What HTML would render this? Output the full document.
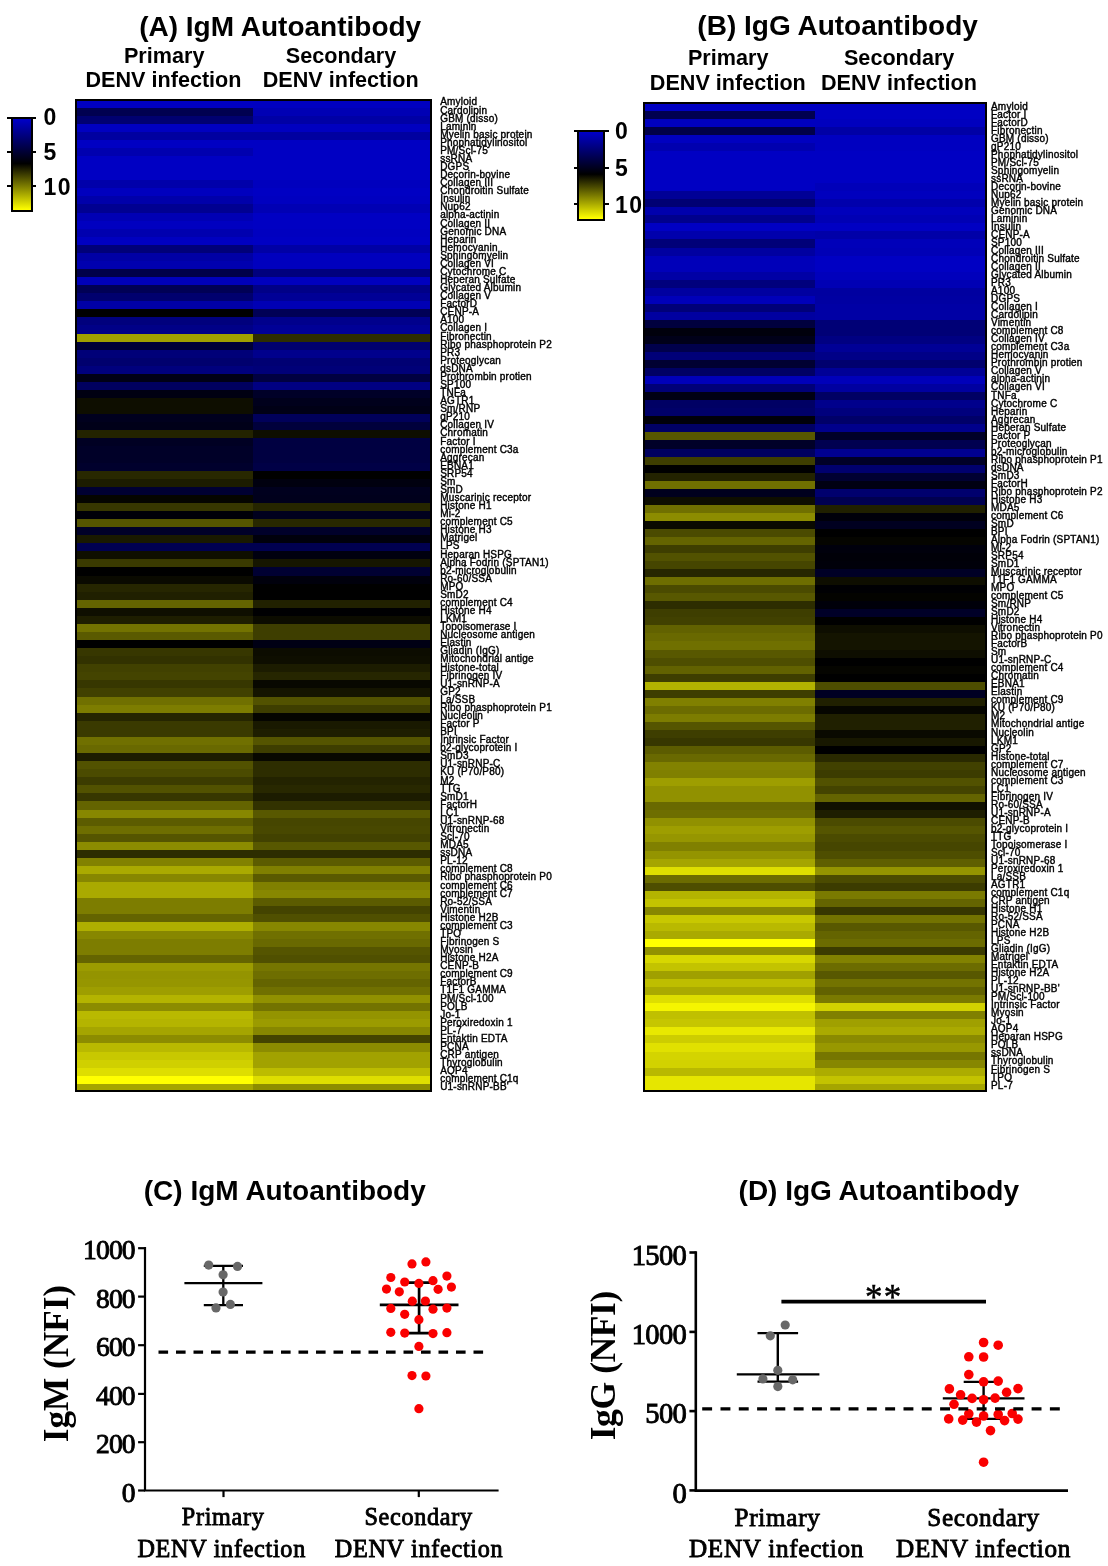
<!DOCTYPE html>
<html lang="en"><head><meta charset="utf-8"><title>Autoantibody heatmaps</title>
<style>
html,body{margin:0;padding:0;background:#fff}
body{width:1108px;height:1566px;position:relative;overflow:hidden;font-family:"Liberation Sans",sans-serif;color:#000}
.t{position:absolute;white-space:nowrap;font-weight:bold}
.cbl{font-size:23px;line-height:24px;letter-spacing:1.5px}
.hm{position:absolute;border:2px solid #000;overflow:hidden;box-sizing:content-box}
.cb{position:absolute;border:2px solid #000;box-sizing:content-box;z-index:2}
.tk{position:absolute;height:2.4px;background:#000;z-index:1}
.lb{position:absolute;font-size:10.00px;line-height:11px;letter-spacing:0.2px;white-space:nowrap;-webkit-text-stroke:0.4px #000}
.lb div{position:absolute;left:0}
svg{position:absolute;left:0;top:0}
.st{font-family:"Liberation Serif",serif;font-size:27.5px;letter-spacing:-0.8px;stroke:#000;stroke-width:0.9px}
.sg{font-family:"Liberation Serif",serif;font-size:35px;letter-spacing:1.2px;stroke:#000;stroke-width:0.5px}
.sx{font-family:"Liberation Serif",serif;font-size:24.2px;letter-spacing:0.7px;stroke:#000;stroke-width:0.85px}
.sy{font-family:"Liberation Serif",serif;font-size:35.2px;font-weight:bold}
.sxd{font-size:25.2px}
.std{font-size:28.6px;letter-spacing:-0.7px}
.syd{font-size:35.5px;letter-spacing:-0.4px}
</style></head><body>

<div class="t" style="left:280.20px;top:11.80px;width:400px;margin-left:-200px;text-align:center;font-size:28.00px;line-height:30px;">(A) IgM Autoantibody</div>
<div class="t" style="left:164.20px;top:40.72px;width:400px;margin-left:-200px;text-align:center;font-size:21.60px;line-height:30px;">Primary</div>
<div class="t" style="left:163.50px;top:65.22px;width:400px;margin-left:-200px;text-align:center;font-size:21.60px;line-height:30px;">DENV infection</div>
<div class="t" style="left:341.00px;top:40.72px;width:400px;margin-left:-200px;text-align:center;font-size:21.60px;line-height:30px;">Secondary</div>
<div class="t" style="left:340.70px;top:65.22px;width:400px;margin-left:-200px;text-align:center;font-size:21.60px;line-height:30px;">DENV infection</div>
<div class="t" style="left:837.60px;top:11.40px;width:400px;margin-left:-200px;text-align:center;font-size:28.00px;line-height:30px;">(B) IgG Autoantibody</div>
<div class="t" style="left:728.20px;top:42.72px;width:400px;margin-left:-200px;text-align:center;font-size:21.60px;line-height:30px;">Primary</div>
<div class="t" style="left:727.80px;top:67.82px;width:400px;margin-left:-200px;text-align:center;font-size:21.60px;line-height:30px;">DENV infection</div>
<div class="t" style="left:899.20px;top:42.72px;width:400px;margin-left:-200px;text-align:center;font-size:21.60px;line-height:30px;">Secondary</div>
<div class="t" style="left:899.00px;top:67.82px;width:400px;margin-left:-200px;text-align:center;font-size:21.60px;line-height:30px;">DENV infection</div>
<div class="hm" style="left:75.00px;top:98.70px;width:352.80px;height:989.30px"><div style="position:absolute;left:0;top:0;width:175.80px;height:989.30px;background:linear-gradient(to bottom,rgb(0,0,192) -1.40px,rgb(0,0,192) 6.67px,rgb(0,0,80) 6.67px,rgb(0,0,80) 14.73px,rgb(0,0,112) 14.73px,rgb(0,0,112) 22.80px,rgb(0,0,192) 22.80px,rgb(0,0,192) 30.87px,rgb(0,0,160) 30.87px,rgb(0,0,160) 38.93px,rgb(0,0,195) 38.93px,rgb(0,0,195) 47.00px,rgb(0,0,175) 47.00px,rgb(0,0,175) 55.07px,rgb(0,0,195) 55.07px,rgb(0,0,195) 63.14px,rgb(0,0,195) 63.14px,rgb(0,0,195) 71.20px,rgb(0,0,195) 71.20px,rgb(0,0,195) 79.27px,rgb(0,0,170) 79.27px,rgb(0,0,170) 87.34px,rgb(0,0,190) 87.34px,rgb(0,0,190) 95.40px,rgb(0,0,170) 95.40px,rgb(0,0,170) 103.47px,rgb(0,0,145) 103.47px,rgb(0,0,145) 111.54px,rgb(0,0,180) 111.54px,rgb(0,0,180) 119.60px,rgb(0,0,192) 119.60px,rgb(0,0,192) 127.67px,rgb(0,0,175) 127.67px,rgb(0,0,175) 135.74px,rgb(0,0,192) 135.74px,rgb(0,0,192) 143.81px,rgb(0,0,120) 143.81px,rgb(0,0,120) 151.87px,rgb(0,0,165) 151.87px,rgb(0,0,165) 159.94px,rgb(0,0,175) 159.94px,rgb(0,0,175) 168.01px,rgb(0,0,72) 168.01px,rgb(0,0,72) 176.07px,rgb(0,0,185) 176.07px,rgb(0,0,185) 184.14px,rgb(0,0,85) 184.14px,rgb(0,0,85) 192.21px,rgb(0,0,110) 192.21px,rgb(0,0,110) 200.28px,rgb(0,0,165) 200.28px,rgb(0,0,165) 208.34px,rgb(0,0,0) 208.34px,rgb(0,0,0) 216.41px,rgb(0,0,125) 216.41px,rgb(0,0,125) 224.48px,rgb(0,0,135) 224.48px,rgb(0,0,135) 232.54px,rgb(160,160,0) 232.54px,rgb(160,160,0) 240.61px,rgb(0,0,55) 240.61px,rgb(0,0,55) 248.68px,rgb(0,0,120) 248.68px,rgb(0,0,120) 256.74px,rgb(0,0,110) 256.74px,rgb(0,0,110) 264.81px,rgb(0,0,125) 264.81px,rgb(0,0,125) 272.88px,rgb(0,0,22) 272.88px,rgb(0,0,22) 280.95px,rgb(0,0,95) 280.95px,rgb(0,0,95) 289.01px,rgb(0,0,18) 289.01px,rgb(0,0,18) 297.08px,rgb(14,14,0) 297.08px,rgb(14,14,0) 305.15px,rgb(14,14,0) 305.15px,rgb(14,14,0) 313.21px,rgb(0,0,30) 313.21px,rgb(0,0,30) 321.28px,rgb(0,0,25) 321.28px,rgb(0,0,25) 329.35px,rgb(35,35,0) 329.35px,rgb(35,35,0) 337.41px,rgb(0,0,35) 337.41px,rgb(0,0,35) 345.48px,rgb(0,0,40) 345.48px,rgb(0,0,40) 353.55px,rgb(0,0,40) 353.55px,rgb(0,0,40) 361.62px,rgb(0,0,45) 361.62px,rgb(0,0,45) 369.68px,rgb(40,40,0) 369.68px,rgb(40,40,0) 377.75px,rgb(28,28,0) 377.75px,rgb(28,28,0) 385.82px,rgb(0,0,50) 385.82px,rgb(0,0,50) 393.88px,rgb(5,5,0) 393.88px,rgb(5,5,0) 401.95px,rgb(55,55,0) 401.95px,rgb(55,55,0) 410.02px,rgb(0,0,8) 410.02px,rgb(0,0,8) 418.08px,rgb(85,85,0) 418.08px,rgb(85,85,0) 426.15px,rgb(0,0,40) 426.15px,rgb(0,0,40) 434.22px,rgb(25,25,0) 434.22px,rgb(25,25,0) 442.28px,rgb(0,0,80) 442.28px,rgb(0,0,80) 450.35px,rgb(15,15,0) 450.35px,rgb(15,15,0) 458.42px,rgb(58,58,0) 458.42px,rgb(58,58,0) 466.49px,rgb(0,0,0) 466.49px,rgb(0,0,0) 474.55px,rgb(10,10,0) 474.55px,rgb(10,10,0) 482.62px,rgb(38,38,0) 482.62px,rgb(38,38,0) 490.69px,rgb(32,32,0) 490.69px,rgb(32,32,0) 498.75px,rgb(100,100,0) 498.75px,rgb(100,100,0) 506.82px,rgb(15,15,0) 506.82px,rgb(15,15,0) 514.89px,rgb(30,30,0) 514.89px,rgb(30,30,0) 522.96px,rgb(115,115,0) 522.96px,rgb(115,115,0) 531.02px,rgb(90,90,0) 531.02px,rgb(90,90,0) 539.09px,rgb(0,0,0) 539.09px,rgb(0,0,0) 547.16px,rgb(55,55,0) 547.16px,rgb(55,55,0) 555.22px,rgb(50,50,0) 555.22px,rgb(50,50,0) 563.29px,rgb(65,65,0) 563.29px,rgb(65,65,0) 571.36px,rgb(68,68,0) 571.36px,rgb(68,68,0) 579.42px,rgb(55,55,0) 579.42px,rgb(55,55,0) 587.49px,rgb(65,65,0) 587.49px,rgb(65,65,0) 595.56px,rgb(112,112,0) 595.56px,rgb(112,112,0) 603.62px,rgb(125,125,0) 603.62px,rgb(125,125,0) 611.69px,rgb(38,38,0) 611.69px,rgb(38,38,0) 619.76px,rgb(58,58,0) 619.76px,rgb(58,58,0) 627.83px,rgb(58,58,0) 627.83px,rgb(58,58,0) 635.89px,rgb(112,112,0) 635.89px,rgb(112,112,0) 643.96px,rgb(105,105,0) 643.96px,rgb(105,105,0) 652.03px,rgb(28,28,0) 652.03px,rgb(28,28,0) 660.09px,rgb(82,82,0) 660.09px,rgb(82,82,0) 668.16px,rgb(75,75,0) 668.16px,rgb(75,75,0) 676.23px,rgb(60,60,0) 676.23px,rgb(60,60,0) 684.30px,rgb(82,82,0) 684.30px,rgb(82,82,0) 692.36px,rgb(55,55,0) 692.36px,rgb(55,55,0) 700.43px,rgb(100,100,0) 700.43px,rgb(100,100,0) 708.50px,rgb(135,135,0) 708.50px,rgb(135,135,0) 716.56px,rgb(92,92,0) 716.56px,rgb(92,92,0) 724.63px,rgb(110,110,0) 724.63px,rgb(110,110,0) 732.70px,rgb(85,85,0) 732.70px,rgb(85,85,0) 740.76px,rgb(140,140,0) 740.76px,rgb(140,140,0) 748.83px,rgb(45,45,0) 748.83px,rgb(45,45,0) 756.90px,rgb(130,130,0) 756.90px,rgb(130,130,0) 764.97px,rgb(170,170,0) 764.97px,rgb(170,170,0) 773.03px,rgb(135,135,0) 773.03px,rgb(135,135,0) 781.10px,rgb(170,170,0) 781.10px,rgb(170,170,0) 789.17px,rgb(170,170,0) 789.17px,rgb(170,170,0) 797.23px,rgb(125,125,0) 797.23px,rgb(125,125,0) 805.30px,rgb(125,125,0) 805.30px,rgb(125,125,0) 813.37px,rgb(100,100,0) 813.37px,rgb(100,100,0) 821.43px,rgb(175,175,0) 821.43px,rgb(175,175,0) 829.50px,rgb(135,135,0) 829.50px,rgb(135,135,0) 837.57px,rgb(125,125,0) 837.57px,rgb(125,125,0) 845.63px,rgb(125,125,0) 845.63px,rgb(125,125,0) 853.70px,rgb(100,100,0) 853.70px,rgb(100,100,0) 861.77px,rgb(155,155,0) 861.77px,rgb(155,155,0) 869.84px,rgb(148,148,0) 869.84px,rgb(148,148,0) 877.90px,rgb(150,150,0) 877.90px,rgb(150,150,0) 885.97px,rgb(158,158,0) 885.97px,rgb(158,158,0) 894.04px,rgb(180,180,0) 894.04px,rgb(180,180,0) 902.10px,rgb(140,140,0) 902.10px,rgb(140,140,0) 910.17px,rgb(185,185,0) 910.17px,rgb(185,185,0) 918.24px,rgb(180,180,0) 918.24px,rgb(180,180,0) 926.31px,rgb(165,165,0) 926.31px,rgb(165,165,0) 934.37px,rgb(140,140,0) 934.37px,rgb(140,140,0) 942.44px,rgb(185,185,0) 942.44px,rgb(185,185,0) 950.51px,rgb(200,200,0) 950.51px,rgb(200,200,0) 958.57px,rgb(208,208,0) 958.57px,rgb(208,208,0) 966.64px,rgb(222,222,0) 966.64px,rgb(222,222,0) 974.71px,rgb(255,255,0) 974.71px,rgb(255,255,0) 982.77px,rgb(165,165,0) 982.77px,rgb(165,165,0) 990.84px)"></div><div style="position:absolute;left:175.80px;top:0;width:177.00px;height:989.30px;background:linear-gradient(to bottom,rgb(0,0,192) -1.40px,rgb(0,0,192) 6.67px,rgb(0,0,180) 6.67px,rgb(0,0,180) 14.73px,rgb(0,0,165) 14.73px,rgb(0,0,165) 22.80px,rgb(0,0,192) 22.80px,rgb(0,0,192) 30.87px,rgb(0,0,160) 30.87px,rgb(0,0,160) 38.93px,rgb(0,0,195) 38.93px,rgb(0,0,195) 47.00px,rgb(0,0,195) 47.00px,rgb(0,0,195) 55.07px,rgb(0,0,195) 55.07px,rgb(0,0,195) 63.14px,rgb(0,0,195) 63.14px,rgb(0,0,195) 71.20px,rgb(0,0,195) 71.20px,rgb(0,0,195) 79.27px,rgb(0,0,190) 79.27px,rgb(0,0,190) 87.34px,rgb(0,0,195) 87.34px,rgb(0,0,195) 95.40px,rgb(0,0,192) 95.40px,rgb(0,0,192) 103.47px,rgb(0,0,180) 103.47px,rgb(0,0,180) 111.54px,rgb(0,0,195) 111.54px,rgb(0,0,195) 119.60px,rgb(0,0,195) 119.60px,rgb(0,0,195) 127.67px,rgb(0,0,192) 127.67px,rgb(0,0,192) 135.74px,rgb(0,0,195) 135.74px,rgb(0,0,195) 143.81px,rgb(0,0,165) 143.81px,rgb(0,0,165) 151.87px,rgb(0,0,190) 151.87px,rgb(0,0,190) 159.94px,rgb(0,0,190) 159.94px,rgb(0,0,190) 168.01px,rgb(0,0,125) 168.01px,rgb(0,0,125) 176.07px,rgb(0,0,190) 176.07px,rgb(0,0,190) 184.14px,rgb(0,0,135) 184.14px,rgb(0,0,135) 192.21px,rgb(0,0,150) 192.21px,rgb(0,0,150) 200.28px,rgb(0,0,180) 200.28px,rgb(0,0,180) 208.34px,rgb(0,0,85) 208.34px,rgb(0,0,85) 216.41px,rgb(0,0,140) 216.41px,rgb(0,0,140) 224.48px,rgb(0,0,150) 224.48px,rgb(0,0,150) 232.54px,rgb(45,45,0) 232.54px,rgb(45,45,0) 240.61px,rgb(0,0,110) 240.61px,rgb(0,0,110) 248.68px,rgb(0,0,140) 248.68px,rgb(0,0,140) 256.74px,rgb(0,0,115) 256.74px,rgb(0,0,115) 264.81px,rgb(0,0,120) 264.81px,rgb(0,0,120) 272.88px,rgb(0,0,65) 272.88px,rgb(0,0,65) 280.95px,rgb(0,0,130) 280.95px,rgb(0,0,130) 289.01px,rgb(0,0,40) 289.01px,rgb(0,0,40) 297.08px,rgb(0,0,28) 297.08px,rgb(0,0,28) 305.15px,rgb(0,0,22) 305.15px,rgb(0,0,22) 313.21px,rgb(0,0,90) 313.21px,rgb(0,0,90) 321.28px,rgb(0,0,60) 321.28px,rgb(0,0,60) 329.35px,rgb(14,14,0) 329.35px,rgb(14,14,0) 337.41px,rgb(0,0,65) 337.41px,rgb(0,0,65) 345.48px,rgb(0,0,65) 345.48px,rgb(0,0,65) 353.55px,rgb(0,0,65) 353.55px,rgb(0,0,65) 361.62px,rgb(0,0,70) 361.62px,rgb(0,0,70) 369.68px,rgb(0,0,0) 369.68px,rgb(0,0,0) 377.75px,rgb(0,0,15) 377.75px,rgb(0,0,15) 385.82px,rgb(0,0,30) 385.82px,rgb(0,0,30) 393.88px,rgb(0,0,28) 393.88px,rgb(0,0,28) 401.95px,rgb(38,38,0) 401.95px,rgb(38,38,0) 410.02px,rgb(0,0,30) 410.02px,rgb(0,0,30) 418.08px,rgb(40,40,0) 418.08px,rgb(40,40,0) 426.15px,rgb(0,0,42) 426.15px,rgb(0,0,42) 434.22px,rgb(0,0,12) 434.22px,rgb(0,0,12) 442.28px,rgb(0,0,80) 442.28px,rgb(0,0,80) 450.35px,rgb(0,0,15) 450.35px,rgb(0,0,15) 458.42px,rgb(22,22,0) 458.42px,rgb(22,22,0) 466.49px,rgb(0,0,50) 466.49px,rgb(0,0,50) 474.55px,rgb(0,0,12) 474.55px,rgb(0,0,12) 482.62px,rgb(0,0,0) 482.62px,rgb(0,0,0) 490.69px,rgb(0,0,0) 490.69px,rgb(0,0,0) 498.75px,rgb(33,33,0) 498.75px,rgb(33,33,0) 506.82px,rgb(0,0,2) 506.82px,rgb(0,0,2) 514.89px,rgb(12,12,0) 514.89px,rgb(12,12,0) 522.96px,rgb(62,62,0) 522.96px,rgb(62,62,0) 531.02px,rgb(62,62,0) 531.02px,rgb(62,62,0) 539.09px,rgb(0,0,20) 539.09px,rgb(0,0,20) 547.16px,rgb(12,12,0) 547.16px,rgb(12,12,0) 555.22px,rgb(14,14,0) 555.22px,rgb(14,14,0) 563.29px,rgb(28,28,0) 563.29px,rgb(28,28,0) 571.36px,rgb(38,38,0) 571.36px,rgb(38,38,0) 579.42px,rgb(8,8,0) 579.42px,rgb(8,8,0) 587.49px,rgb(20,20,0) 587.49px,rgb(20,20,0) 595.56px,rgb(82,82,0) 595.56px,rgb(82,82,0) 603.62px,rgb(62,62,0) 603.62px,rgb(62,62,0) 611.69px,rgb(5,5,0) 611.69px,rgb(5,5,0) 619.76px,rgb(25,25,0) 619.76px,rgb(25,25,0) 627.83px,rgb(30,30,0) 627.83px,rgb(30,30,0) 635.89px,rgb(85,85,0) 635.89px,rgb(85,85,0) 643.96px,rgb(62,62,0) 643.96px,rgb(62,62,0) 652.03px,rgb(8,8,0) 652.03px,rgb(8,8,0) 660.09px,rgb(45,45,0) 660.09px,rgb(45,45,0) 668.16px,rgb(45,45,0) 668.16px,rgb(45,45,0) 676.23px,rgb(35,35,0) 676.23px,rgb(35,35,0) 684.30px,rgb(40,40,0) 684.30px,rgb(40,40,0) 692.36px,rgb(28,28,0) 692.36px,rgb(28,28,0) 700.43px,rgb(50,50,0) 700.43px,rgb(50,50,0) 708.50px,rgb(88,88,0) 708.50px,rgb(88,88,0) 716.56px,rgb(70,70,0) 716.56px,rgb(70,70,0) 724.63px,rgb(72,72,0) 724.63px,rgb(72,72,0) 732.70px,rgb(66,66,0) 732.70px,rgb(66,66,0) 740.76px,rgb(88,88,0) 740.76px,rgb(88,88,0) 748.83px,rgb(45,45,0) 748.83px,rgb(45,45,0) 756.90px,rgb(92,92,0) 756.90px,rgb(92,92,0) 764.97px,rgb(128,128,0) 764.97px,rgb(128,128,0) 773.03px,rgb(90,90,0) 773.03px,rgb(90,90,0) 781.10px,rgb(128,128,0) 781.10px,rgb(128,128,0) 789.17px,rgb(135,135,0) 789.17px,rgb(135,135,0) 797.23px,rgb(92,92,0) 797.23px,rgb(92,92,0) 805.30px,rgb(68,68,0) 805.30px,rgb(68,68,0) 813.37px,rgb(80,80,0) 813.37px,rgb(80,80,0) 821.43px,rgb(135,135,0) 821.43px,rgb(135,135,0) 829.50px,rgb(112,112,0) 829.50px,rgb(112,112,0) 837.57px,rgb(105,105,0) 837.57px,rgb(105,105,0) 845.63px,rgb(85,85,0) 845.63px,rgb(85,85,0) 853.70px,rgb(80,80,0) 853.70px,rgb(80,80,0) 861.77px,rgb(118,118,0) 861.77px,rgb(118,118,0) 869.84px,rgb(110,110,0) 869.84px,rgb(110,110,0) 877.90px,rgb(100,100,0) 877.90px,rgb(100,100,0) 885.97px,rgb(112,112,0) 885.97px,rgb(112,112,0) 894.04px,rgb(145,145,0) 894.04px,rgb(145,145,0) 902.10px,rgb(115,115,0) 902.10px,rgb(115,115,0) 910.17px,rgb(148,148,0) 910.17px,rgb(148,148,0) 918.24px,rgb(155,155,0) 918.24px,rgb(155,155,0) 926.31px,rgb(135,135,0) 926.31px,rgb(135,135,0) 934.37px,rgb(68,68,0) 934.37px,rgb(68,68,0) 942.44px,rgb(140,140,0) 942.44px,rgb(140,140,0) 950.51px,rgb(162,162,0) 950.51px,rgb(162,162,0) 958.57px,rgb(162,162,0) 958.57px,rgb(162,162,0) 966.64px,rgb(188,188,0) 966.64px,rgb(188,188,0) 974.71px,rgb(222,222,0) 974.71px,rgb(222,222,0) 982.77px,rgb(140,140,0) 982.77px,rgb(140,140,0) 990.84px)"></div></div>
<div class="hm" style="left:642.90px;top:102.00px;width:340.00px;height:985.70px"><div style="position:absolute;left:0;top:0;width:170.40px;height:985.70px;background:linear-gradient(to bottom,rgb(0,0,195) -1.20px,rgb(0,0,195) 6.84px,rgb(0,0,80) 6.84px,rgb(0,0,80) 14.88px,rgb(0,0,190) 14.88px,rgb(0,0,190) 22.92px,rgb(0,0,72) 22.92px,rgb(0,0,72) 30.96px,rgb(0,0,192) 30.96px,rgb(0,0,192) 39.00px,rgb(0,0,175) 39.00px,rgb(0,0,175) 47.04px,rgb(0,0,195) 47.04px,rgb(0,0,195) 55.08px,rgb(0,0,195) 55.08px,rgb(0,0,195) 63.12px,rgb(0,0,195) 63.12px,rgb(0,0,195) 71.16px,rgb(0,0,195) 71.16px,rgb(0,0,195) 79.20px,rgb(0,0,195) 79.20px,rgb(0,0,195) 87.24px,rgb(0,0,150) 87.24px,rgb(0,0,150) 95.28px,rgb(0,0,115) 95.28px,rgb(0,0,115) 103.32px,rgb(0,0,172) 103.32px,rgb(0,0,172) 111.36px,rgb(0,0,140) 111.36px,rgb(0,0,140) 119.40px,rgb(0,0,195) 119.40px,rgb(0,0,195) 127.44px,rgb(0,0,172) 127.44px,rgb(0,0,172) 135.48px,rgb(0,0,120) 135.48px,rgb(0,0,120) 143.52px,rgb(0,0,160) 143.52px,rgb(0,0,160) 151.56px,rgb(0,0,185) 151.56px,rgb(0,0,185) 159.60px,rgb(0,0,185) 159.60px,rgb(0,0,185) 167.64px,rgb(0,0,165) 167.64px,rgb(0,0,165) 175.68px,rgb(0,0,125) 175.68px,rgb(0,0,125) 183.72px,rgb(0,0,160) 183.72px,rgb(0,0,160) 191.76px,rgb(0,0,185) 191.76px,rgb(0,0,185) 199.80px,rgb(0,0,120) 199.80px,rgb(0,0,120) 207.84px,rgb(0,0,160) 207.84px,rgb(0,0,160) 215.88px,rgb(0,0,62) 215.88px,rgb(0,0,62) 223.92px,rgb(0,0,12) 223.92px,rgb(0,0,12) 231.96px,rgb(0,0,25) 231.96px,rgb(0,0,25) 240.00px,rgb(0,0,75) 240.00px,rgb(0,0,75) 248.04px,rgb(0,0,120) 248.04px,rgb(0,0,120) 256.08px,rgb(0,0,50) 256.08px,rgb(0,0,50) 264.12px,rgb(0,0,100) 264.12px,rgb(0,0,100) 272.16px,rgb(0,0,185) 272.16px,rgb(0,0,185) 280.20px,rgb(0,0,120) 280.20px,rgb(0,0,120) 288.24px,rgb(0,0,20) 288.24px,rgb(0,0,20) 296.28px,rgb(0,0,100) 296.28px,rgb(0,0,100) 304.32px,rgb(0,0,105) 304.32px,rgb(0,0,105) 312.36px,rgb(0,0,10) 312.36px,rgb(0,0,10) 320.40px,rgb(0,0,100) 320.40px,rgb(0,0,100) 328.44px,rgb(88,88,0) 328.44px,rgb(88,88,0) 336.48px,rgb(0,0,40) 336.48px,rgb(0,0,40) 344.52px,rgb(0,0,95) 344.52px,rgb(0,0,95) 352.56px,rgb(62,62,0) 352.56px,rgb(62,62,0) 360.60px,rgb(0,0,0) 360.60px,rgb(0,0,0) 368.64px,rgb(35,35,0) 368.64px,rgb(35,35,0) 376.68px,rgb(112,112,0) 376.68px,rgb(112,112,0) 384.72px,rgb(0,0,30) 384.72px,rgb(0,0,30) 392.76px,rgb(14,14,0) 392.76px,rgb(14,14,0) 400.80px,rgb(112,112,0) 400.80px,rgb(112,112,0) 408.84px,rgb(140,140,0) 408.84px,rgb(140,140,0) 416.88px,rgb(10,10,0) 416.88px,rgb(10,10,0) 424.92px,rgb(75,75,0) 424.92px,rgb(75,75,0) 432.96px,rgb(100,100,0) 432.96px,rgb(100,100,0) 441.00px,rgb(62,62,0) 441.00px,rgb(62,62,0) 449.04px,rgb(82,82,0) 449.04px,rgb(82,82,0) 457.08px,rgb(70,70,0) 457.08px,rgb(70,70,0) 465.12px,rgb(38,38,0) 465.12px,rgb(38,38,0) 473.16px,rgb(110,110,0) 473.16px,rgb(110,110,0) 481.20px,rgb(75,75,0) 481.20px,rgb(75,75,0) 489.24px,rgb(88,88,0) 489.24px,rgb(88,88,0) 497.28px,rgb(45,45,0) 497.28px,rgb(45,45,0) 505.32px,rgb(62,62,0) 505.32px,rgb(62,62,0) 513.36px,rgb(65,65,0) 513.36px,rgb(65,65,0) 521.40px,rgb(98,98,0) 521.40px,rgb(98,98,0) 529.44px,rgb(105,105,0) 529.44px,rgb(105,105,0) 537.48px,rgb(112,112,0) 537.48px,rgb(112,112,0) 545.52px,rgb(88,88,0) 545.52px,rgb(88,88,0) 553.56px,rgb(78,78,0) 553.56px,rgb(78,78,0) 561.60px,rgb(98,98,0) 561.60px,rgb(98,98,0) 569.64px,rgb(62,62,0) 569.64px,rgb(62,62,0) 577.68px,rgb(178,178,0) 577.68px,rgb(178,178,0) 585.72px,rgb(62,62,0) 585.72px,rgb(62,62,0) 593.76px,rgb(128,128,0) 593.76px,rgb(128,128,0) 601.80px,rgb(108,108,0) 601.80px,rgb(108,108,0) 609.84px,rgb(125,125,0) 609.84px,rgb(125,125,0) 617.88px,rgb(85,85,0) 617.88px,rgb(85,85,0) 625.92px,rgb(62,62,0) 625.92px,rgb(62,62,0) 633.96px,rgb(55,55,0) 633.96px,rgb(55,55,0) 642.00px,rgb(92,92,0) 642.00px,rgb(92,92,0) 650.04px,rgb(105,105,0) 650.04px,rgb(105,105,0) 658.08px,rgb(130,130,0) 658.08px,rgb(130,130,0) 666.12px,rgb(128,128,0) 666.12px,rgb(128,128,0) 674.16px,rgb(158,158,0) 674.16px,rgb(158,158,0) 682.20px,rgb(145,145,0) 682.20px,rgb(145,145,0) 690.24px,rgb(145,145,0) 690.24px,rgb(145,145,0) 698.28px,rgb(105,105,0) 698.28px,rgb(105,105,0) 706.32px,rgb(110,110,0) 706.32px,rgb(110,110,0) 714.36px,rgb(145,145,0) 714.36px,rgb(145,145,0) 722.40px,rgb(158,158,0) 722.40px,rgb(158,158,0) 730.44px,rgb(150,150,0) 730.44px,rgb(150,150,0) 738.48px,rgb(128,128,0) 738.48px,rgb(128,128,0) 746.52px,rgb(148,148,0) 746.52px,rgb(148,148,0) 754.56px,rgb(165,165,0) 754.56px,rgb(165,165,0) 762.60px,rgb(222,222,0) 762.60px,rgb(222,222,0) 770.64px,rgb(108,108,0) 770.64px,rgb(108,108,0) 778.68px,rgb(78,78,0) 778.68px,rgb(78,78,0) 786.72px,rgb(180,180,0) 786.72px,rgb(180,180,0) 794.76px,rgb(195,195,0) 794.76px,rgb(195,195,0) 802.80px,rgb(135,135,0) 802.80px,rgb(135,135,0) 810.84px,rgb(200,200,0) 810.84px,rgb(200,200,0) 818.88px,rgb(185,185,0) 818.88px,rgb(185,185,0) 826.92px,rgb(170,170,0) 826.92px,rgb(170,170,0) 834.96px,rgb(255,255,0) 834.96px,rgb(255,255,0) 843.00px,rgb(145,145,0) 843.00px,rgb(145,145,0) 851.04px,rgb(215,215,0) 851.04px,rgb(215,215,0) 859.08px,rgb(195,195,0) 859.08px,rgb(195,195,0) 867.12px,rgb(160,160,0) 867.12px,rgb(160,160,0) 875.16px,rgb(190,190,0) 875.16px,rgb(190,190,0) 883.20px,rgb(170,170,0) 883.20px,rgb(170,170,0) 891.24px,rgb(222,222,0) 891.24px,rgb(222,222,0) 899.28px,rgb(245,245,0) 899.28px,rgb(245,245,0) 907.32px,rgb(192,192,0) 907.32px,rgb(192,192,0) 915.36px,rgb(198,198,0) 915.36px,rgb(198,198,0) 923.40px,rgb(232,232,0) 923.40px,rgb(232,232,0) 931.44px,rgb(205,205,0) 931.44px,rgb(205,205,0) 939.48px,rgb(225,225,0) 939.48px,rgb(225,225,0) 947.52px,rgb(212,212,0) 947.52px,rgb(212,212,0) 955.56px,rgb(210,210,0) 955.56px,rgb(210,210,0) 963.60px,rgb(185,185,0) 963.60px,rgb(185,185,0) 971.64px,rgb(230,230,0) 971.64px,rgb(230,230,0) 979.68px,rgb(230,230,0) 979.68px,rgb(230,230,0) 987.72px)"></div><div style="position:absolute;left:170.40px;top:0;width:169.60px;height:985.70px;background:linear-gradient(to bottom,rgb(0,0,195) -1.20px,rgb(0,0,195) 6.84px,rgb(0,0,195) 6.84px,rgb(0,0,195) 14.88px,rgb(0,0,190) 14.88px,rgb(0,0,190) 22.92px,rgb(0,0,165) 22.92px,rgb(0,0,165) 30.96px,rgb(0,0,192) 30.96px,rgb(0,0,192) 39.00px,rgb(0,0,192) 39.00px,rgb(0,0,192) 47.04px,rgb(0,0,195) 47.04px,rgb(0,0,195) 55.08px,rgb(0,0,195) 55.08px,rgb(0,0,195) 63.12px,rgb(0,0,195) 63.12px,rgb(0,0,195) 71.16px,rgb(0,0,195) 71.16px,rgb(0,0,195) 79.20px,rgb(0,0,185) 79.20px,rgb(0,0,185) 87.24px,rgb(0,0,190) 87.24px,rgb(0,0,190) 95.28px,rgb(0,0,172) 95.28px,rgb(0,0,172) 103.32px,rgb(0,0,188) 103.32px,rgb(0,0,188) 111.36px,rgb(0,0,180) 111.36px,rgb(0,0,180) 119.40px,rgb(0,0,195) 119.40px,rgb(0,0,195) 127.44px,rgb(0,0,168) 127.44px,rgb(0,0,168) 135.48px,rgb(0,0,185) 135.48px,rgb(0,0,185) 143.52px,rgb(0,0,182) 143.52px,rgb(0,0,182) 151.56px,rgb(0,0,195) 151.56px,rgb(0,0,195) 159.60px,rgb(0,0,195) 159.60px,rgb(0,0,195) 167.64px,rgb(0,0,188) 167.64px,rgb(0,0,188) 175.68px,rgb(0,0,180) 175.68px,rgb(0,0,180) 183.72px,rgb(0,0,160) 183.72px,rgb(0,0,160) 191.76px,rgb(0,0,162) 191.76px,rgb(0,0,162) 199.80px,rgb(0,0,165) 199.80px,rgb(0,0,165) 207.84px,rgb(0,0,165) 207.84px,rgb(0,0,165) 215.88px,rgb(0,0,118) 215.88px,rgb(0,0,118) 223.92px,rgb(0,0,118) 223.92px,rgb(0,0,118) 231.96px,rgb(0,0,130) 231.96px,rgb(0,0,130) 240.00px,rgb(0,0,150) 240.00px,rgb(0,0,150) 248.04px,rgb(0,0,135) 248.04px,rgb(0,0,135) 256.08px,rgb(0,0,110) 256.08px,rgb(0,0,110) 264.12px,rgb(0,0,150) 264.12px,rgb(0,0,150) 272.16px,rgb(0,0,185) 272.16px,rgb(0,0,185) 280.20px,rgb(0,0,160) 280.20px,rgb(0,0,160) 288.24px,rgb(0,0,100) 288.24px,rgb(0,0,100) 296.28px,rgb(0,0,140) 296.28px,rgb(0,0,140) 304.32px,rgb(0,0,125) 304.32px,rgb(0,0,125) 312.36px,rgb(0,0,105) 312.36px,rgb(0,0,105) 320.40px,rgb(0,0,140) 320.40px,rgb(0,0,140) 328.44px,rgb(0,0,40) 328.44px,rgb(0,0,40) 336.48px,rgb(0,0,80) 336.48px,rgb(0,0,80) 344.52px,rgb(0,0,145) 344.52px,rgb(0,0,145) 352.56px,rgb(0,0,40) 352.56px,rgb(0,0,40) 360.60px,rgb(0,0,110) 360.60px,rgb(0,0,110) 368.64px,rgb(0,0,50) 368.64px,rgb(0,0,50) 376.68px,rgb(0,0,18) 376.68px,rgb(0,0,18) 384.72px,rgb(0,0,110) 384.72px,rgb(0,0,110) 392.76px,rgb(0,0,80) 392.76px,rgb(0,0,80) 400.80px,rgb(32,32,0) 400.80px,rgb(32,32,0) 408.84px,rgb(0,0,10) 408.84px,rgb(0,0,10) 416.88px,rgb(0,0,32) 416.88px,rgb(0,0,32) 424.92px,rgb(0,0,0) 424.92px,rgb(0,0,0) 432.96px,rgb(5,5,0) 432.96px,rgb(5,5,0) 441.00px,rgb(0,0,12) 441.00px,rgb(0,0,12) 449.04px,rgb(0,0,8) 449.04px,rgb(0,0,8) 457.08px,rgb(0,0,10) 457.08px,rgb(0,0,10) 465.12px,rgb(0,0,38) 465.12px,rgb(0,0,38) 473.16px,rgb(14,14,0) 473.16px,rgb(14,14,0) 481.20px,rgb(0,0,3) 481.20px,rgb(0,0,3) 489.24px,rgb(3,3,0) 489.24px,rgb(3,3,0) 497.28px,rgb(0,0,10) 497.28px,rgb(0,0,10) 505.32px,rgb(0,0,40) 505.32px,rgb(0,0,40) 513.36px,rgb(0,0,0) 513.36px,rgb(0,0,0) 521.40px,rgb(14,14,0) 521.40px,rgb(14,14,0) 529.44px,rgb(20,20,0) 529.44px,rgb(20,20,0) 537.48px,rgb(20,20,0) 537.48px,rgb(20,20,0) 545.52px,rgb(14,14,0) 545.52px,rgb(14,14,0) 553.56px,rgb(0,0,0) 553.56px,rgb(0,0,0) 561.60px,rgb(5,5,0) 561.60px,rgb(5,5,0) 569.64px,rgb(0,0,0) 569.64px,rgb(0,0,0) 577.68px,rgb(78,78,0) 577.68px,rgb(78,78,0) 585.72px,rgb(0,0,35) 585.72px,rgb(0,0,35) 593.76px,rgb(32,32,0) 593.76px,rgb(32,32,0) 601.80px,rgb(6,6,0) 601.80px,rgb(6,6,0) 609.84px,rgb(32,32,0) 609.84px,rgb(32,32,0) 617.88px,rgb(32,32,0) 617.88px,rgb(32,32,0) 625.92px,rgb(10,10,0) 625.92px,rgb(10,10,0) 633.96px,rgb(24,24,0) 633.96px,rgb(24,24,0) 642.00px,rgb(0,0,0) 642.00px,rgb(0,0,0) 650.04px,rgb(42,42,0) 650.04px,rgb(42,42,0) 658.08px,rgb(65,65,0) 658.08px,rgb(65,65,0) 666.12px,rgb(60,60,0) 666.12px,rgb(60,60,0) 674.16px,rgb(82,82,0) 674.16px,rgb(82,82,0) 682.20px,rgb(68,68,0) 682.20px,rgb(68,68,0) 690.24px,rgb(100,100,0) 690.24px,rgb(100,100,0) 698.28px,rgb(16,16,0) 698.28px,rgb(16,16,0) 706.32px,rgb(30,30,0) 706.32px,rgb(30,30,0) 714.36px,rgb(75,75,0) 714.36px,rgb(75,75,0) 722.40px,rgb(85,85,0) 722.40px,rgb(85,85,0) 730.44px,rgb(75,75,0) 730.44px,rgb(75,75,0) 738.48px,rgb(70,70,0) 738.48px,rgb(70,70,0) 746.52px,rgb(78,78,0) 746.52px,rgb(78,78,0) 754.56px,rgb(95,95,0) 754.56px,rgb(95,95,0) 762.60px,rgb(148,148,0) 762.60px,rgb(148,148,0) 770.64px,rgb(75,75,0) 770.64px,rgb(75,75,0) 778.68px,rgb(60,60,0) 778.68px,rgb(60,60,0) 786.72px,rgb(122,122,0) 786.72px,rgb(122,122,0) 794.76px,rgb(100,100,0) 794.76px,rgb(100,100,0) 802.80px,rgb(55,55,0) 802.80px,rgb(55,55,0) 810.84px,rgb(115,115,0) 810.84px,rgb(115,115,0) 818.88px,rgb(88,88,0) 818.88px,rgb(88,88,0) 826.92px,rgb(100,100,0) 826.92px,rgb(100,100,0) 834.96px,rgb(108,108,0) 834.96px,rgb(108,108,0) 843.00px,rgb(60,60,0) 843.00px,rgb(60,60,0) 851.04px,rgb(130,130,0) 851.04px,rgb(130,130,0) 859.08px,rgb(108,108,0) 859.08px,rgb(108,108,0) 867.12px,rgb(88,88,0) 867.12px,rgb(88,88,0) 875.16px,rgb(115,115,0) 875.16px,rgb(115,115,0) 883.20px,rgb(98,98,0) 883.20px,rgb(98,98,0) 891.24px,rgb(122,122,0) 891.24px,rgb(122,122,0) 899.28px,rgb(210,210,0) 899.28px,rgb(210,210,0) 907.32px,rgb(128,128,0) 907.32px,rgb(128,128,0) 915.36px,rgb(160,160,0) 915.36px,rgb(160,160,0) 923.40px,rgb(170,170,0) 923.40px,rgb(170,170,0) 931.44px,rgb(138,138,0) 931.44px,rgb(138,138,0) 939.48px,rgb(152,152,0) 939.48px,rgb(152,152,0) 947.52px,rgb(118,118,0) 947.52px,rgb(118,118,0) 955.56px,rgb(135,135,0) 955.56px,rgb(135,135,0) 963.60px,rgb(172,172,0) 963.60px,rgb(172,172,0) 971.64px,rgb(195,195,0) 971.64px,rgb(195,195,0) 979.68px,rgb(165,165,0) 979.68px,rgb(165,165,0) 987.72px)"></div></div>
<div class="lb" style="left:440.20px;top:0">
<div style="top:96.44px">Amyloid</div>
<div style="top:104.51px">Cardolipin</div>
<div style="top:112.58px">GBM (disso)</div>
<div style="top:120.65px">Laminin</div>
<div style="top:128.73px">Myelin basic protein</div>
<div style="top:136.80px">Phophatidylinositol</div>
<div style="top:144.87px">PM/Scl-75</div>
<div style="top:152.95px">ssRNA</div>
<div style="top:161.02px">DGPS</div>
<div style="top:169.09px">Decorin-bovine</div>
<div style="top:177.16px">Collagen III</div>
<div style="top:185.24px">Chondroitin Sulfate</div>
<div style="top:193.31px">Insulin</div>
<div style="top:201.38px">Nup62</div>
<div style="top:209.46px">alpha-actinin</div>
<div style="top:217.53px">Collagen II</div>
<div style="top:225.60px">Genomic DNA</div>
<div style="top:233.68px">Heparin</div>
<div style="top:241.75px">Hemocyanin</div>
<div style="top:249.82px">Sphingomyelin</div>
<div style="top:257.90px">Collagen VI</div>
<div style="top:265.97px">Cytochrome C</div>
<div style="top:274.04px">Heperan Sulfate</div>
<div style="top:282.11px">Glycated Albumin</div>
<div style="top:290.19px">Collagen V</div>
<div style="top:298.26px">FactorD</div>
<div style="top:306.33px">CENP-A</div>
<div style="top:314.41px">A100</div>
<div style="top:322.48px">Collagen I</div>
<div style="top:330.55px">Fibronectin</div>
<div style="top:338.63px">Ribo phasphoprotein P2</div>
<div style="top:346.70px">PR3</div>
<div style="top:354.77px">Proteoglycan</div>
<div style="top:362.84px">dsDNA</div>
<div style="top:370.92px">Prothrombin protien</div>
<div style="top:378.99px">SP100</div>
<div style="top:387.06px">TNFa</div>
<div style="top:395.14px">AGTR1</div>
<div style="top:403.21px">Sm/RNP</div>
<div style="top:411.28px">gP210</div>
<div style="top:419.36px">Collagen IV</div>
<div style="top:427.43px">Chromatin</div>
<div style="top:435.50px">Factor I</div>
<div style="top:443.57px">complement C3a</div>
<div style="top:451.65px">Aggrecan</div>
<div style="top:459.72px">EBNA1</div>
<div style="top:467.79px">SRP54</div>
<div style="top:475.87px">Sm</div>
<div style="top:483.94px">SmD</div>
<div style="top:492.01px">Muscarinic receptor</div>
<div style="top:500.09px">Histone H1</div>
<div style="top:508.16px">Mi-2</div>
<div style="top:516.23px">complement C5</div>
<div style="top:524.30px">Histone H3</div>
<div style="top:532.38px">Matrigel</div>
<div style="top:540.45px">LPS</div>
<div style="top:548.52px">Heparan HSPG</div>
<div style="top:556.60px">Alpha Fodrin (SPTAN1)</div>
<div style="top:564.67px">b2-microglobulin</div>
<div style="top:572.74px">Ro-60/SSA</div>
<div style="top:580.81px">MPO</div>
<div style="top:588.89px">SmD2</div>
<div style="top:596.96px">complement C4</div>
<div style="top:605.03px">Histone H4</div>
<div style="top:613.11px">LKM1</div>
<div style="top:621.18px">Topoisomerase I</div>
<div style="top:629.25px">Nucleosome antigen</div>
<div style="top:637.33px">Elastin</div>
<div style="top:645.40px">Gliadin (IgG)</div>
<div style="top:653.47px">Mitochondrial antige</div>
<div style="top:661.54px">Histone-total</div>
<div style="top:669.62px">Fibrinogen IV</div>
<div style="top:677.69px">U1-snRNP-A</div>
<div style="top:685.76px">GP2</div>
<div style="top:693.84px">La/SSB</div>
<div style="top:701.91px">Ribo phasphoprotein P1</div>
<div style="top:709.98px">Nucleolin</div>
<div style="top:718.06px">Factor P</div>
<div style="top:726.13px">BPI</div>
<div style="top:734.20px">Intrinsic Factor</div>
<div style="top:742.27px">b2-glycoprotein I</div>
<div style="top:750.35px">SmD3</div>
<div style="top:758.42px">U1-snRNP-C</div>
<div style="top:766.49px">KU (P70/P80)</div>
<div style="top:774.57px">M2</div>
<div style="top:782.64px">TTG</div>
<div style="top:790.71px">SmD1</div>
<div style="top:798.79px">FactorH</div>
<div style="top:806.86px">LC1</div>
<div style="top:814.93px">U1-snRNP-68</div>
<div style="top:823.00px">Vitronectin</div>
<div style="top:831.08px">Scl-70</div>
<div style="top:839.15px">MDA5</div>
<div style="top:847.22px">ssDNA</div>
<div style="top:855.30px">PL-12</div>
<div style="top:863.37px">complement C8</div>
<div style="top:871.44px">Ribo phasphoprotein P0</div>
<div style="top:879.52px">complement C6</div>
<div style="top:887.59px">complement C7</div>
<div style="top:895.66px">Ro-52/SSA</div>
<div style="top:903.74px">Vimentin</div>
<div style="top:911.81px">Histone H2B</div>
<div style="top:919.88px">complement C3</div>
<div style="top:927.95px">TPO</div>
<div style="top:936.03px">Fibrinogen S</div>
<div style="top:944.10px">Myosin</div>
<div style="top:952.17px">Histone H2A</div>
<div style="top:960.25px">CENP-B</div>
<div style="top:968.32px">complement C9</div>
<div style="top:976.39px">FactorB</div>
<div style="top:984.47px">T1F1 GAMMA</div>
<div style="top:992.54px">PM/Scl-100</div>
<div style="top:1000.61px">POLB</div>
<div style="top:1008.68px">Jo-1</div>
<div style="top:1016.76px">Peroxiredoxin 1</div>
<div style="top:1024.83px">PL-7</div>
<div style="top:1032.90px">Entaktin EDTA</div>
<div style="top:1040.98px">PCNA</div>
<div style="top:1049.05px">CRP antigen</div>
<div style="top:1057.12px">Thyroglobulin</div>
<div style="top:1065.20px">AQP4</div>
<div style="top:1073.27px">complement C1q</div>
<div style="top:1081.34px">U1-snRNP-BB'</div>
</div>
<div class="lb" style="left:991.00px;top:0">
<div style="top:100.63px">Amyloid</div>
<div style="top:108.66px">Factor I</div>
<div style="top:116.68px">FactorD</div>
<div style="top:124.71px">Fibronectin</div>
<div style="top:132.73px">GBM (disso)</div>
<div style="top:140.75px">gP210</div>
<div style="top:148.78px">Phophatidylinositol</div>
<div style="top:156.80px">PM/Scl-75</div>
<div style="top:164.83px">Sphingomyelin</div>
<div style="top:172.85px">ssRNA</div>
<div style="top:180.87px">Decorin-bovine</div>
<div style="top:188.90px">Nup62</div>
<div style="top:196.92px">Myelin basic protein</div>
<div style="top:204.95px">Genomic DNA</div>
<div style="top:212.97px">Laminin</div>
<div style="top:220.99px">Insulin</div>
<div style="top:229.02px">CENP-A</div>
<div style="top:237.04px">SP100</div>
<div style="top:245.07px">Collagen III</div>
<div style="top:253.09px">Chondroitin Sulfate</div>
<div style="top:261.12px">Collagen II</div>
<div style="top:269.14px">Glycated Albumin</div>
<div style="top:277.16px">PR3</div>
<div style="top:285.19px">A100</div>
<div style="top:293.21px">DGPS</div>
<div style="top:301.23px">Collagen I</div>
<div style="top:309.26px">Cardolipin</div>
<div style="top:317.28px">Vimentin</div>
<div style="top:325.31px">complement C8</div>
<div style="top:333.33px">Collagen IV</div>
<div style="top:341.35px">complement C3a</div>
<div style="top:349.38px">Hemocyanin</div>
<div style="top:357.40px">Prothrombin protien</div>
<div style="top:365.43px">Collagen V</div>
<div style="top:373.45px">alpha-actinin</div>
<div style="top:381.47px">Collagen VI</div>
<div style="top:389.50px">TNFa</div>
<div style="top:397.52px">Cytochrome C</div>
<div style="top:405.55px">Heparin</div>
<div style="top:413.57px">Aggrecan</div>
<div style="top:421.59px">Heperan Sulfate</div>
<div style="top:429.62px">Factor P</div>
<div style="top:437.64px">Proteoglycan</div>
<div style="top:445.67px">b2-microglobulin</div>
<div style="top:453.69px">Ribo phasphoprotein P1</div>
<div style="top:461.71px">dsDNA</div>
<div style="top:469.74px">SmD3</div>
<div style="top:477.76px">FactorH</div>
<div style="top:485.79px">Ribo phasphoprotein P2</div>
<div style="top:493.81px">Histone H3</div>
<div style="top:501.83px">MDA5</div>
<div style="top:509.86px">complement C6</div>
<div style="top:517.88px">SmD</div>
<div style="top:525.91px">BPI</div>
<div style="top:533.93px">Alpha Fodrin (SPTAN1)</div>
<div style="top:541.95px">Mi-2</div>
<div style="top:549.98px">SRP54</div>
<div style="top:558.00px">SmD1</div>
<div style="top:566.03px">Muscarinic receptor</div>
<div style="top:574.05px">T1F1 GAMMA</div>
<div style="top:582.07px">MPO</div>
<div style="top:590.10px">complement C5</div>
<div style="top:598.12px">Sm/RNP</div>
<div style="top:606.15px">SmD2</div>
<div style="top:614.17px">Histone H4</div>
<div style="top:622.19px">Vitronectin</div>
<div style="top:630.22px">Ribo phasphoprotein P0</div>
<div style="top:638.24px">FactorB</div>
<div style="top:646.27px">Sm</div>
<div style="top:654.29px">U1-snRNP-C</div>
<div style="top:662.31px">complement C4</div>
<div style="top:670.34px">Chromatin</div>
<div style="top:678.36px">EBNA1</div>
<div style="top:686.39px">Elastin</div>
<div style="top:694.41px">complement C9</div>
<div style="top:702.43px">KU (P70/P80)</div>
<div style="top:710.46px">M2</div>
<div style="top:718.48px">Mitochondrial antige</div>
<div style="top:726.51px">Nucleolin</div>
<div style="top:734.53px">LKM1</div>
<div style="top:742.55px">GP2</div>
<div style="top:750.58px">Histone-total</div>
<div style="top:758.60px">complement C7</div>
<div style="top:766.63px">Nucleosome antigen</div>
<div style="top:774.65px">complement C3</div>
<div style="top:782.67px">LC1</div>
<div style="top:790.70px">Fibrinogen IV</div>
<div style="top:798.72px">Ro-60/SSA</div>
<div style="top:806.75px">U1-snRNP-A</div>
<div style="top:814.77px">CENP-B</div>
<div style="top:822.79px">b2-glycoprotein I</div>
<div style="top:830.82px">TTG</div>
<div style="top:838.84px">Topoisomerase I</div>
<div style="top:846.87px">Scl-70</div>
<div style="top:854.89px">U1-snRNP-68</div>
<div style="top:862.91px">Peroxiredoxin 1</div>
<div style="top:870.94px">La/SSB</div>
<div style="top:878.96px">AGTR1</div>
<div style="top:886.99px">complement C1q</div>
<div style="top:895.01px">CRP antigen</div>
<div style="top:903.03px">Histone H1</div>
<div style="top:911.06px">Ro-52/SSA</div>
<div style="top:919.08px">PCNA</div>
<div style="top:927.11px">Histone H2B</div>
<div style="top:935.13px">LPS</div>
<div style="top:943.15px">Gliadin (IgG)</div>
<div style="top:951.18px">Matrigel</div>
<div style="top:959.20px">Entaktin EDTA</div>
<div style="top:967.23px">Histone H2A</div>
<div style="top:975.25px">PL-12</div>
<div style="top:983.27px">U1-snRNP-BB'</div>
<div style="top:991.30px">PM/Scl-100</div>
<div style="top:999.32px">Intrinsic Factor</div>
<div style="top:1007.35px">Myosin</div>
<div style="top:1015.37px">Jo-1</div>
<div style="top:1023.39px">AQP4</div>
<div style="top:1031.42px">Heparan HSPG</div>
<div style="top:1039.44px">POLB</div>
<div style="top:1047.47px">ssDNA</div>
<div style="top:1055.49px">Thyroglobulin</div>
<div style="top:1063.51px">Fibrinogen S</div>
<div style="top:1071.54px">TPO</div>
<div style="top:1079.56px">PL-7</div>
</div>
<div class="cb" style="left:10.80px;top:116.80px;width:18.20px;height:90.80px;background:linear-gradient(to bottom,rgb(0,0,200) 0.00px,#000 44.60px,rgb(255,255,0) 90.80px)"></div><div class="tk" style="left:7.30px;top:116.70px;width:29.20px"></div><div class="t cbl" style="left:43.50px;top:104.60px">0</div><div class="tk" style="left:7.30px;top:150.80px;width:29.20px"></div><div class="t cbl" style="left:43.50px;top:139.80px">5</div><div class="tk" style="left:7.30px;top:184.60px;width:29.20px"></div><div class="t cbl" style="left:43.50px;top:174.90px">10</div>
<div class="cb" style="left:577.30px;top:130.00px;width:24.00px;height:86.60px;background:linear-gradient(to bottom,rgb(0,0,200) 0.00px,#000 42.20px,rgb(255,255,0) 86.60px)"></div><div class="tk" style="left:573.80px;top:129.80px;width:35.00px"></div><div class="t cbl" style="left:615.00px;top:118.70px">0</div><div class="tk" style="left:573.80px;top:166.70px;width:35.00px"></div><div class="t cbl" style="left:615.00px;top:156.40px">5</div><div class="tk" style="left:573.80px;top:202.60px;width:35.00px"></div><div class="t cbl" style="left:615.00px;top:193.30px">10</div>
<div class="t" style="left:284.80px;top:1175.60px;width:400px;margin-left:-200px;text-align:center;font-size:28.00px;line-height:30px;">(C) IgM Autoantibody</div>
<div class="t" style="left:878.80px;top:1175.60px;width:400px;margin-left:-200px;text-align:center;font-size:28.00px;line-height:30px;">(D) IgG Autoantibody</div>
<svg width="1108" height="1566" viewBox="0 0 1108 1566">
<path d="M145.0 1247.1V1490.5H498.6" fill="none" stroke="#000" stroke-width="2.2"/>
<path d="M138.1 1248.2H145.0" stroke="#000" stroke-width="2.2"/>
<text class="st" x="134.8" y="1259.3" text-anchor="end">1000</text>
<path d="M138.1 1296.6H145.0" stroke="#000" stroke-width="2.2"/>
<text class="st" x="134.8" y="1307.7" text-anchor="end">800</text>
<path d="M138.1 1345.2H145.0" stroke="#000" stroke-width="2.2"/>
<text class="st" x="134.8" y="1356.3" text-anchor="end">600</text>
<path d="M138.1 1393.9H145.0" stroke="#000" stroke-width="2.2"/>
<text class="st" x="134.8" y="1405.0" text-anchor="end">400</text>
<path d="M138.1 1442.2H145.0" stroke="#000" stroke-width="2.2"/>
<text class="st" x="134.8" y="1453.3" text-anchor="end">200</text>
<path d="M138.1 1490.5H145.0" stroke="#000" stroke-width="2.2"/>
<text class="st" x="134.8" y="1501.6" text-anchor="end">0</text>
<path d="M223.5 1490.5V1497.1" stroke="#000" stroke-width="2.2"/>
<path d="M418.8 1490.5V1497.1" stroke="#000" stroke-width="2.2"/>
<path d="M158.5 1352.1H485.5" stroke="#000" stroke-width="3.1" stroke-dasharray="9.6 7.9"/>
<path d="M184.4 1283.1H262.4M203.8 1265.9H243.0M203.8 1305.1H243.0M223.3 1265.9V1305.1" stroke="#000" stroke-width="2.3" fill="none"/>
<circle cx="208.7" cy="1265.1" r="4.6" fill="#686868"/><circle cx="237.5" cy="1266.4" r="4.6" fill="#686868"/><circle cx="223.1" cy="1274.8" r="4.6" fill="#686868"/><circle cx="223.1" cy="1292.0" r="4.6" fill="#686868"/><circle cx="230.4" cy="1304.4" r="4.6" fill="#686868"/><circle cx="216.0" cy="1307.9" r="4.6" fill="#686868"/>
<path d="M379.8 1304.8H458.5M404.7 1282.6H433.0M404.7 1333.1H433.0M419.1 1282.6V1333.1" stroke="#000" stroke-width="2.7" fill="none"/>
<circle cx="412.0" cy="1263.9" r="4.6" fill="#fa0000"/><circle cx="425.9" cy="1261.9" r="4.6" fill="#fa0000"/><circle cx="390.8" cy="1277.5" r="4.6" fill="#fa0000"/><circle cx="446.9" cy="1276.1" r="4.6" fill="#fa0000"/><circle cx="404.7" cy="1282.0" r="4.6" fill="#fa0000"/><circle cx="418.9" cy="1283.4" r="4.6" fill="#fa0000"/><circle cx="433.0" cy="1280.7" r="4.6" fill="#fa0000"/><circle cx="386.5" cy="1289.1" r="4.6" fill="#fa0000"/><circle cx="451.4" cy="1287.1" r="4.6" fill="#fa0000"/><circle cx="399.3" cy="1291.8" r="4.6" fill="#fa0000"/><circle cx="438.1" cy="1289.3" r="4.6" fill="#fa0000"/><circle cx="412.3" cy="1301.2" r="4.6" fill="#fa0000"/><circle cx="425.4" cy="1301.0" r="4.6" fill="#fa0000"/><circle cx="390.8" cy="1308.4" r="4.6" fill="#fa0000"/><circle cx="446.9" cy="1308.1" r="4.6" fill="#fa0000"/><circle cx="433.0" cy="1309.2" r="4.6" fill="#fa0000"/><circle cx="404.7" cy="1314.3" r="4.6" fill="#fa0000"/><circle cx="418.9" cy="1319.7" r="4.6" fill="#fa0000"/><circle cx="390.8" cy="1332.3" r="4.6" fill="#fa0000"/><circle cx="404.7" cy="1333.1" r="4.6" fill="#fa0000"/><circle cx="433.0" cy="1333.6" r="4.6" fill="#fa0000"/><circle cx="446.9" cy="1332.7" r="4.6" fill="#fa0000"/><circle cx="418.9" cy="1346.4" r="4.6" fill="#fa0000"/><circle cx="412.0" cy="1375.6" r="4.6" fill="#fa0000"/><circle cx="425.9" cy="1376.0" r="4.6" fill="#fa0000"/><circle cx="418.9" cy="1408.7" r="4.6" fill="#fa0000"/>
<text class="sx" x="223.2" y="1524.8" text-anchor="middle">Primary</text>
<text class="sx" x="221.7" y="1556.5" text-anchor="middle">DENV infection</text>
<text class="sx" x="418.6" y="1524.8" text-anchor="middle">Secondary</text>
<text class="sx" x="419.1" y="1556.5" text-anchor="middle">DENV infection</text>
<text class="sy" transform="translate(68.3,1363.6) rotate(-90)" text-anchor="middle">IgM (NFI)</text>
<path d="M695.8 1251.2V1490.6H1068.0" fill="none" stroke="#000" stroke-width="2.6"/>
<path d="M689.4 1252.5H695.8" stroke="#000" stroke-width="2.6"/>
<text class="st std" x="686.1" y="1264.6" text-anchor="end">1500</text>
<path d="M689.4 1331.9H695.8" stroke="#000" stroke-width="2.6"/>
<text class="st std" x="686.1" y="1344.0" text-anchor="end">1000</text>
<path d="M689.4 1411.1H695.8" stroke="#000" stroke-width="2.6"/>
<text class="st std" x="686.1" y="1423.2" text-anchor="end">500</text>
<path d="M689.4 1490.4H695.8" stroke="#000" stroke-width="2.6"/>
<text class="st std" x="686.1" y="1502.5" text-anchor="end">0</text>
<path d="M781.4 1301.7H986.0" stroke="#000" stroke-width="3.8"/>
<text class="sg" x="883.8" y="1309.0" text-anchor="middle">**</text>
<path d="M736.8 1374.4H819.4M757.5 1333.1H798.1M757.5 1381.6H798.1M777.8 1333.1V1381.6" stroke="#000" stroke-width="2.4" fill="none"/>
<circle cx="785.2" cy="1325.0" r="4.6" fill="#686868"/><circle cx="770.3" cy="1335.8" r="4.6" fill="#686868"/><circle cx="777.8" cy="1370.3" r="4.6" fill="#686868"/><circle cx="762.9" cy="1378.9" r="4.6" fill="#686868"/><circle cx="792.7" cy="1379.8" r="4.6" fill="#686868"/><circle cx="777.8" cy="1386.6" r="4.6" fill="#686868"/>
<path d="M942.8 1398.4H1024.5M963.7 1381.9H1001.5M963.7 1418.9H1001.5M983.6 1381.9V1418.9" stroke="#000" stroke-width="2.4" fill="none"/>
<circle cx="983.6" cy="1342.5" r="4.8" fill="#fa0000"/><circle cx="998.2" cy="1345.2" r="4.8" fill="#fa0000"/><circle cx="968.8" cy="1356.8" r="4.8" fill="#fa0000"/><circle cx="983.6" cy="1357.0" r="4.8" fill="#fa0000"/><circle cx="968.8" cy="1374.6" r="4.8" fill="#fa0000"/><circle cx="983.6" cy="1381.8" r="4.8" fill="#fa0000"/><circle cx="998.2" cy="1381.1" r="4.8" fill="#fa0000"/><circle cx="949.4" cy="1388.9" r="4.8" fill="#fa0000"/><circle cx="1018.0" cy="1388.6" r="4.8" fill="#fa0000"/><circle cx="960.6" cy="1394.8" r="4.8" fill="#fa0000"/><circle cx="1006.6" cy="1392.3" r="4.8" fill="#fa0000"/><circle cx="972.1" cy="1398.4" r="4.8" fill="#fa0000"/><circle cx="983.6" cy="1399.7" r="4.8" fill="#fa0000"/><circle cx="995.1" cy="1398.1" r="4.8" fill="#fa0000"/><circle cx="954.0" cy="1404.3" r="4.8" fill="#fa0000"/><circle cx="968.8" cy="1413.8" r="4.8" fill="#fa0000"/><circle cx="983.6" cy="1416.0" r="4.8" fill="#fa0000"/><circle cx="998.2" cy="1414.5" r="4.8" fill="#fa0000"/><circle cx="1012.2" cy="1413.5" r="4.8" fill="#fa0000"/><circle cx="948.7" cy="1418.9" r="4.8" fill="#fa0000"/><circle cx="962.7" cy="1420.1" r="4.8" fill="#fa0000"/><circle cx="976.5" cy="1422.1" r="4.8" fill="#fa0000"/><circle cx="1004.6" cy="1420.6" r="4.8" fill="#fa0000"/><circle cx="1018.0" cy="1419.1" r="4.8" fill="#fa0000"/><circle cx="990.5" cy="1430.6" r="4.8" fill="#fa0000"/><circle cx="983.6" cy="1462.2" r="4.8" fill="#fa0000"/>
<path d="M702.2 1408.9H1062.4" stroke="#000" stroke-width="3.2" stroke-dasharray="9.9 8.4"/>
<text class="sx sxd" x="777.5" y="1525.6" text-anchor="middle">Primary</text>
<text class="sx sxd" x="776.5" y="1556.5" text-anchor="middle">DENV infection</text>
<text class="sx sxd" x="983.6" y="1525.6" text-anchor="middle">Secondary</text>
<text class="sx sxd" x="983.6" y="1556.5" text-anchor="middle">DENV infection</text>
<text class="sy syd" transform="translate(614.9,1365.7) rotate(-90)" text-anchor="middle">IgG (NFI)</text>
</svg>
</body></html>
